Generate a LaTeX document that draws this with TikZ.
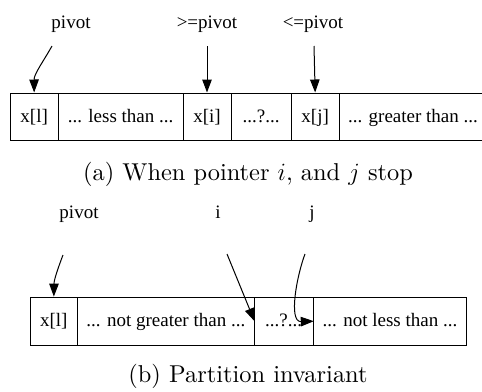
\documentclass[tikz,border=0pt]{standalone}
\usepackage{fontspec}
\newfontfamily\tms{Liberation Serif}
\newfontfamily\capfont{lmroman10-regular.otf}
\usetikzlibrary{arrows.meta}
\begin{document}
\begin{tikzpicture}[x=1pt,y=-1pt,
  cellbox/.style={draw, line width=1pt, inner sep=0pt, font=\tms\fontsize{19}{22}\selectfont,
    text height=14pt, text depth=3pt},
  lab/.style={font=\tms\fontsize{19}{22}\selectfont, anchor=base, inner sep=0pt},
  captext/.style={font=\capfont\fontsize{24.4}{29}\selectfont, anchor=base, inner sep=0pt},
  ptr/.style={line width=1pt, -{Triangle[length=13pt,width=9.5pt]}}]
\useasboundingbox (0,0) rectangle (482,391);
\clip (0,0) rectangle (482,391);
% (a)
\node[cellbox, minimum width=48.3pt, minimum height=47.5pt] (a1) at (34.15,116.75) {x[l]};
\node[cellbox, minimum width=124.7pt, minimum height=47.5pt] (a2) at (120.65,116.75) {... less than ...};
\node[cellbox, minimum width=48pt, minimum height=47.5pt] (a3) at (207,116.75) {x[i]};
\node[cellbox, minimum width=60.3pt, minimum height=47.5pt] (a4) at (261.15,116.75) {...?...};
\node[cellbox, minimum width=47.7pt, minimum height=47.5pt] (a5) at (315.15,116.75) {x[j]};
\node[cellbox, minimum width=148pt, minimum height=47.5pt] (a6) at (413,116.75) {... greater than ...};
\node[lab] (la1) at (71,28.5) {pivot};
\node[lab] (la2) at (207,28.5) {>=pivot};
\node[lab] (la3) at (313,28.5) {<=pivot};
\coordinate (sa1) at (52,46);
\coordinate (sa2) at (207,46);
\coordinate (sa3) at (314,46);
\draw[ptr] (sa1) .. controls (43,62) and (34,74) .. (a1.north);
\draw[ptr] (sa2) -- (a3.north);
\draw[ptr] (sa3) -- (a5.north);
\node[captext] (capa) at (248,180) {(a) When pointer $i$, and $j$ stop};
% (b)
\node[cellbox, minimum width=47.7pt, minimum height=48.2pt] (b1) at (53.85,321.2) {x[l]};
\node[cellbox, minimum width=176.3pt, minimum height=48.2pt] (b2) at (165.85,321.2) {... not greater than ...};
\node[cellbox, minimum width=59.3pt, minimum height=48.2pt] (b3) at (283.65,321.2) {...?...};
\node[cellbox, minimum width=153.4pt, minimum height=48.2pt] (b4) at (390,321.2) {... not less than ...};
\node[lab] (lb1) at (79,218.5) {pivot};
\node[lab] (lb2) at (218,218.5) {i};
\node[lab] (lb3) at (312,218.5) {j};
\coordinate (sb1) at (63,255);
\coordinate (sb2) at (227,254);
\coordinate (sb3) at (305,254);
\draw[ptr] (sb1) .. controls (58,268) and (54,280) .. (b1.north);
\draw[ptr] (sb2) -- (b2.east);
\draw[ptr] (sb3) .. controls (297,275) and (288,322) .. (b3.east);
\node[captext] (capb) at (248,382) {(b) Partition invariant};
\end{tikzpicture}
\end{document}
